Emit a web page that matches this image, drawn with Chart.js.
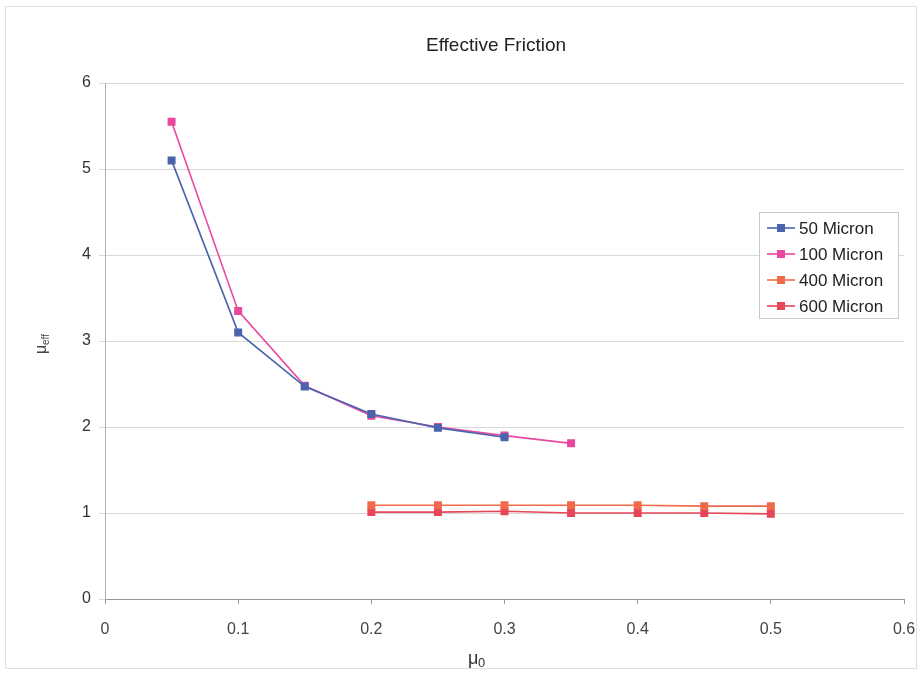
<!DOCTYPE html>
<html>
<head>
<meta charset="utf-8">
<script src="https://cdn.jsdelivr.net/npm/chart.js@4.4.1/dist/chart.umd.min.js"></script>
<style>
  html, body { margin: 0; padding: 0; background: #fff; }
  #wrap { width: 921px; height: 674px; position: relative; }
</style>
</head>
<body>
<div id="wrap"><canvas id="c" width="921" height="674"></canvas></div>
<script>
// Friction coefficient μ0 (x) against effective friction μeff (y)
const mu0Small = [0.05, 0.10, 0.15, 0.20, 0.25, 0.30];
const mu0Medium = [0.05, 0.10, 0.15, 0.20, 0.25, 0.30, 0.35];
const mu0Large = [0.20, 0.25, 0.30, 0.35, 0.40, 0.45, 0.50];

const eff50 = [5.10, 3.10, 2.47, 2.15, 1.99, 1.88];
const eff100 = [5.55, 3.35, 2.48, 2.13, 2.00, 1.90, 1.81];
const eff400 = [1.09, 1.09, 1.09, 1.09, 1.09, 1.08, 1.08];
const eff600 = [1.01, 1.01, 1.02, 1.00, 1.00, 1.00, 0.99];

const seriesNames = ['50 Micron', '100 Micron', '400 Micron', '600 Micron'];
const seriesColors = ['#4a63ad', '#e8489e', '#f06a4c', '#e64658'];

const xTicks = [0, 0.1, 0.2, 0.3, 0.4, 0.5, 0.6];
const yTicks = [0, 1, 2, 3, 4, 5, 6];

function pts(xs, ys) { return xs.map((x, i) => ({ x: x, y: ys[i] })); }

const FONT = '"Liberation Sans", Arial, sans-serif';

function mkSet(i, xs, ys) {
  return {
    label: seriesNames[i],
    data: pts(xs, ys),
    borderColor: seriesColors[i],
    backgroundColor: seriesColors[i],
    borderWidth: 1.6,
    pointStyle: 'rect',
    pointRadius: 4.5,
    pointHoverRadius: 4.5,
    tension: 0,
    showLine: true
  };
}

// Chart title, axis titles, custom legend and outer frame
const decor = {
  id: 'decor',
  beforeDraw(chart) {
    const ctx = chart.ctx;
    ctx.save();
    ctx.fillStyle = '#fff';
    ctx.fillRect(0, 0, chart.width, chart.height);
    ctx.strokeStyle = '#e0e0e0';
    ctx.lineWidth = 1;
    ctx.strokeRect(5.5, 6.5, chart.width - 10, chart.height - 12);
    ctx.restore();
  },
  afterDraw(chart) {
    const ctx = chart.ctx;
    ctx.save();
    // title
    ctx.fillStyle = '#222';
    ctx.font = '19px ' + FONT;
    ctx.textAlign = 'center';
    ctx.textBaseline = 'middle';
    ctx.fillText('Effective Friction', 496, 46);

    // x-axis title: μ with subscript 0
    ctx.fillStyle = '#333';
    ctx.font = '18px ' + FONT;
    ctx.textAlign = 'left';
    ctx.textBaseline = 'alphabetic';
    ctx.fillText('μ', 468, 664);
    ctx.font = '13px ' + FONT;
    ctx.fillText('0', 478, 667);

    // y-axis title: μeff, rotated
    ctx.translate(46, 342);
    ctx.rotate(-Math.PI / 2);
    ctx.font = '16px ' + FONT;
    ctx.fillStyle = '#444';
    ctx.fillText('μ', -12, 0);
    ctx.font = '10px ' + FONT;
    ctx.fillText('eff', -3, 3);
    ctx.setTransform(1, 0, 0, 1, 0, 0);

    // legend
    const lx = 759, ly = 212, lw = 139, lh = 106;
    ctx.fillStyle = '#fff';
    ctx.fillRect(lx, ly, lw, lh);
    ctx.strokeStyle = '#c8c8c8';
    ctx.lineWidth = 1;
    ctx.strokeRect(lx + 0.5, ly + 0.5, lw, lh);
    chart.data.datasets.forEach((ds, i) => {
      const yy = ly + 16 + i * 26;
      ctx.strokeStyle = ds.borderColor;
      ctx.lineWidth = 1.6;
      ctx.beginPath();
      ctx.moveTo(lx + 8, yy);
      ctx.lineTo(lx + 36, yy);
      ctx.stroke();
      ctx.fillStyle = ds.backgroundColor;
      ctx.fillRect(lx + 18, yy - 4, 8, 8);
      ctx.fillStyle = '#222';
      ctx.font = '17px ' + FONT;
      ctx.textAlign = 'left';
      ctx.textBaseline = 'middle';
      ctx.fillText(ds.label, lx + 40, yy + 1);
    });
    ctx.restore();
  }
};

new Chart(document.getElementById('c'), {
  type: 'scatter',
  data: {
    datasets: [
      mkSet(0, mu0Small, eff50),
      mkSet(1, mu0Medium, eff100),
      mkSet(2, mu0Large, eff400),
      mkSet(3, mu0Large, eff600)
    ]
  },
  options: {
    responsive: false,
    animation: false,
    events: [],
    layout: { padding: { top: 83, right: 17, left: 0, bottom: 0 } },
    plugins: { legend: { display: false }, title: { display: false }, tooltip: { enabled: false } },
    scales: {
      x: {
        type: 'linear',
        min: 0, max: 0.6,
        afterBuildTicks(axis) { axis.ticks = xTicks.map(v => ({ value: v })); },
        afterFit(axis) { axis.height = 75; axis.paddingLeft = 0; axis.paddingRight = 0; },
        ticks: {
          color: '#444',
          font: { family: FONT, size: 16 },
          padding: 16,
          maxRotation: 0,
          callback: v => String(v)
        },
        grid: { drawOnChartArea: false, color: '#999', tickLength: 5 },
        border: { color: '#999' }
      },
      y: {
        type: 'linear',
        min: 0, max: 6,
        afterBuildTicks(axis) { axis.ticks = yTicks.map(v => ({ value: v })); },
        afterFit(axis) { axis.width = 105; axis.paddingTop = 0; axis.paddingBottom = 0; },
        ticks: {
          color: '#333',
          font: { family: FONT, size: 16 },
          padding: 8,
          callback: v => String(v)
        },
        grid: { color: '#d9d9d9', tickLength: 6 },
        border: { color: '#b0b0b0' }
      }
    }
  },
  plugins: [decor]
});
</script>
</body>
</html>
